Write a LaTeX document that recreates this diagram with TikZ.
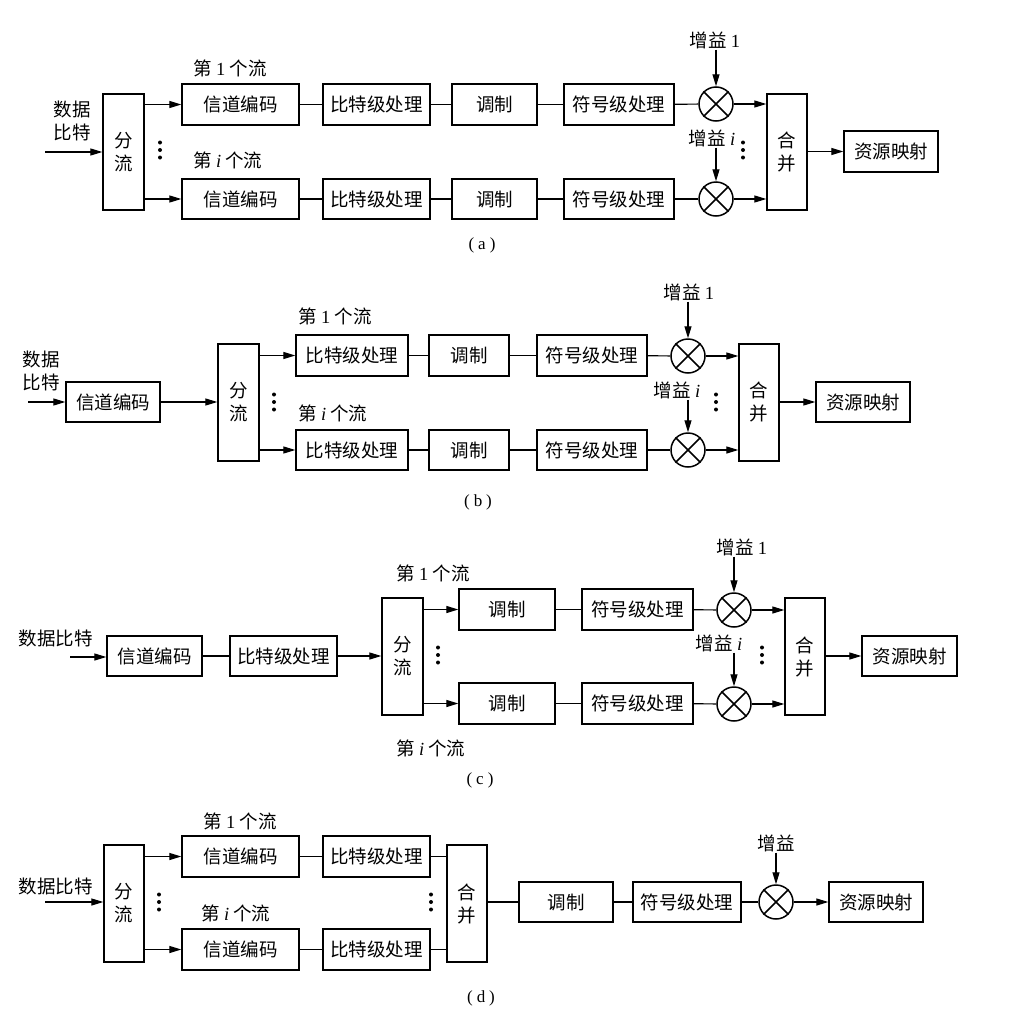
\documentclass[tikz,border=0pt]{standalone}
\usepackage{fontspec}
\setmainfont{Liberation Serif}
\newfontfamily\cjk{Noto Sans CJK SC}
\usetikzlibrary{arrows.meta,calc}
\newcommand\nm[1]{{\rmfamily #1}}
\newcommand\ital{{\rmfamily\itshape i}}
\newcommand\capt[1]{(\hspace{4pt}#1\hspace{4pt})}
\newcommand\vdts[2]{\fill (#1,#2-7.5) circle (2pt) (#1,#2) circle (2pt) (#1,#2+7.5) circle (2pt);}
\newcommand\xmark[1]{\draw[line width=1.5pt] (#1.north west) -- (#1.south east) (#1.north east) -- (#1.south west);}
% \bx{name}{x1}{y1}{x2}{y2}{text}
\newcommand\bx[6]{\node[blk, minimum width={(#4-#2)*1pt}, minimum height={(#5-#3)*1pt}] (#1) at ({(#2+#4)/2},{(#3+#5)/2}) {#6};}
\begin{document}
\begin{tikzpicture}[x=1pt,y=-1pt,
  every node/.style={font=\cjk\fontsize{18.5}{23}\selectfont},
  blk/.style={draw, line width=1.3pt, inner sep=0pt, align=center},
  lbl/.style={inner sep=1pt, align=center},
  captxt/.style={inner sep=0pt, font=\rmfamily\fontsize{17}{19}\selectfont},
  mult/.style={draw, circle, line width=1.5pt, minimum size=34pt, inner sep=0pt},
  conn/.style={line width=1.2pt},
  arr/.style={conn, -{Triangle[length=12pt,width=7pt]}},
]
\useasboundingbox[fill=white] (0,0) rectangle (1018,1020);

%% ---------------- (a) ----------------
\node[lbl] (a-in) at (72,121) {数据\\比特};
\coordinate (a-start) at (45,152);
\bx{a-split}{103}{94}{144}{210}{分\\流}
\bx{a-e1}{182}{84}{299}{125}{信道编码}
\bx{a-e2}{182}{179}{299}{219}{信道编码}
\bx{a-b1}{323}{84}{430}{125}{比特级处理}
\bx{a-b2}{323}{179}{430}{219}{比特级处理}
\bx{a-m1}{452}{84}{537}{125}{调制}
\bx{a-m2}{452}{179}{537}{219}{调制}
\bx{a-s1}{564}{84}{674}{125}{符号级处理}
\bx{a-s2}{564}{179}{674}{219}{符号级处理}
\node[mult] (a-x1) at (716,104) {};
\node[mult] (a-x2) at (716,199) {};
\xmark{a-x1}\xmark{a-x2}
\bx{a-comb}{767}{94}{807}{210}{合\\并}
\bx{a-res}{844}{131}{938}{172}{资源映射}
\node[lbl] (a-f1) at (230,68) {第 \nm{1} 个流};
\node[lbl] (a-fi) at (228,160) {第 \ital{} 个流};
\node[lbl] (a-g1) at (715,40) {增益 \nm{1}};
\node[lbl] (a-gi) at (712,138) {增益 \ital};
\node[captxt] (a-cap) at (482,245) {\capt{a}};
\draw[arr] (a-start) -- (a-start -| a-split.west);
\draw[arr] (a-e1.west -| a-split.east) -- (a-e1.west);
\draw[arr] (a-e2.west -| a-split.east) -- (a-e2.west);
\draw[conn] (a-e1) -- (a-b1); \draw[conn] (a-b1) -- (a-m1); \draw[conn] (a-m1) -- (a-s1); \draw[conn] (a-s1) -- (a-x1);
\draw[conn] (a-e2) -- (a-b2); \draw[conn] (a-b2) -- (a-m2); \draw[conn] (a-m2) -- (a-s2); \draw[conn] (a-s2) -- (a-x2);
\draw[arr] (a-x1) -- (a-x1 -| a-comb.west);
\draw[arr] (a-x2) -- (a-x2 -| a-comb.west);
\draw[arr] (a-g1.south -| a-x1) -- (a-x1);
\draw[arr] (a-gi.south -| a-x2) -- (a-x2);
\draw[arr] (a-res.west -| a-comb.east) -- (a-res.west);
\vdts{160}{150}
\vdts{743}{150}

%% ---------------- (b) ----------------
\node[lbl] (b-in) at (41,371) {数据\\比特};
\coordinate (b-start) at (28,402);
\bx{b-enc}{66}{382}{160}{422}{信道编码}
\bx{b-split}{218}{344}{259}{461}{分\\流}
\bx{b-b1}{296}{335}{408}{376}{比特级处理}
\bx{b-b2}{296}{430}{408}{470}{比特级处理}
\bx{b-m1}{429}{335}{509}{376}{调制}
\bx{b-m2}{429}{430}{509}{470}{调制}
\bx{b-s1}{537}{335}{647}{376}{符号级处理}
\bx{b-s2}{537}{430}{647}{470}{符号级处理}
\node[mult] (b-x1) at (688,356) {};
\node[mult] (b-x2) at (688,450) {};
\xmark{b-x1}\xmark{b-x2}
\bx{b-comb}{739}{344}{779}{461}{合\\并}
\bx{b-res}{816}{382}{910}{422}{资源映射}
\node[lbl] (b-f1) at (335,316) {第 \nm{1} 个流};
\node[lbl] (b-fi) at (333,413) {第 \ital{} 个流};
\node[lbl] (b-g1) at (689,292) {增益 \nm{1}};
\node[lbl] (b-gi) at (677,390) {增益 \ital};
\node[captxt] (b-cap) at (478,502) {\capt{b}};
\draw[arr] (b-start) -- (b-start -| b-enc.west);
\draw[arr] (b-enc) -- (b-enc -| b-split.west);
\draw[arr] (b-b1.west -| b-split.east) -- (b-b1.west);
\draw[arr] (b-b2.west -| b-split.east) -- (b-b2.west);
\draw[conn] (b-b1) -- (b-m1); \draw[conn] (b-m1) -- (b-s1); \draw[conn] (b-s1) -- (b-x1);
\draw[conn] (b-b2) -- (b-m2); \draw[conn] (b-m2) -- (b-s2); \draw[conn] (b-s2) -- (b-x2);
\draw[arr] (b-x1) -- (b-x1 -| b-comb.west);
\draw[arr] (b-x2) -- (b-x2 -| b-comb.west);
\draw[arr] (b-g1.south -| b-x1) -- (b-x1);
\draw[arr] (b-gi.south -| b-x2) -- (b-x2);
\draw[arr] (b-res.west -| b-comb.east) -- (b-res.west);
\vdts{274}{402}
\vdts{716}{402}

%% ---------------- (c) ----------------
\node[lbl] (c-in) at (56,638) {数据比特};
\coordinate (c-start) at (70,657);
\bx{c-enc}{107}{636}{202}{676}{信道编码}
\bx{c-bit}{230}{636}{337}{676}{比特级处理}
\bx{c-split}{382}{598}{423}{715}{分\\流}
\bx{c-m1}{459}{589}{555}{630}{调制}
\bx{c-m2}{459}{683}{555}{724}{调制}
\bx{c-s1}{582}{589}{693}{630}{符号级处理}
\bx{c-s2}{582}{683}{693}{724}{符号级处理}
\node[mult] (c-x1) at (734,610) {};
\node[mult] (c-x2) at (734,704) {};
\xmark{c-x1}\xmark{c-x2}
\bx{c-comb}{785}{598}{825}{715}{合\\并}
\bx{c-res}{862}{636}{957}{676}{资源映射}
\node[lbl] (c-f1) at (433,573) {第 \nm{1} 个流};
\node[lbl] (c-fi) at (431,748) {第 \ital{} 个流};
\node[lbl] (c-g1) at (742,547) {增益 \nm{1}};
\node[lbl] (c-gi) at (719,643) {增益 \ital};
\node[captxt] (c-cap) at (480,780) {\capt{c}};
\draw[arr] (c-start) -- (c-start -| c-enc.west);
\draw[conn] (c-enc) -- (c-bit);
\draw[arr] (c-bit) -- (c-bit -| c-split.west);
\draw[arr] (c-m1.west -| c-split.east) -- (c-m1.west);
\draw[arr] (c-m2.west -| c-split.east) -- (c-m2.west);
\draw[conn] (c-m1) -- (c-s1); \draw[conn] (c-s1) -- (c-x1);
\draw[conn] (c-m2) -- (c-s2); \draw[conn] (c-s2) -- (c-x2);
\draw[arr] (c-x1) -- (c-x1 -| c-comb.west);
\draw[arr] (c-x2) -- (c-x2 -| c-comb.west);
\draw[arr] (c-g1.south -| c-x1) -- (c-x1);
\draw[arr] (c-gi.south -| c-x2) -- (c-x2);
\draw[arr] (c-res.west -| c-comb.east) -- (c-res.west);
\vdts{438}{655}
\vdts{762}{655}

%% ---------------- (d) ----------------
\node[lbl] (d-in) at (56,886) {数据比特};
\coordinate (d-start) at (45,902);
\bx{d-split}{104}{845}{144}{962}{分\\流}
\bx{d-e1}{182}{836}{299}{877}{信道编码}
\bx{d-e2}{182}{929}{299}{970}{信道编码}
\bx{d-b1}{323}{836}{430}{877}{比特级处理}
\bx{d-b2}{323}{929}{430}{970}{比特级处理}
\bx{d-comb}{447}{845}{487}{962}{合\\并}
\bx{d-mod}{519}{882}{613}{922}{调制}
\bx{d-sym}{633}{882}{741}{922}{符号级处理}
\node[mult] (d-x) at (776,902) {};
\xmark{d-x}
\bx{d-res}{829}{882}{923}{922}{资源映射}
\node[lbl] (d-f1) at (240,821) {第 \nm{1} 个流};
\node[lbl] (d-fi) at (236,913) {第 \ital{} 个流};
\node[lbl] (d-g) at (776,843) {增益};
\node[captxt] (d-cap) at (481,998) {\capt{d}};
\draw[arr] (d-start) -- (d-start -| d-split.west);
\draw[arr] (d-e1.west -| d-split.east) -- (d-e1.west);
\draw[arr] (d-e2.west -| d-split.east) -- (d-e2.west);
\draw[conn] (d-e1) -- (d-b1); \draw[conn] (d-b1) -- (d-b1 -| d-comb.west);
\draw[conn] (d-e2) -- (d-b2); \draw[conn] (d-b2) -- (d-b2 -| d-comb.west);
\draw[conn] (d-mod.west -| d-comb.east) -- (d-mod.west);
\draw[conn] (d-mod) -- (d-sym); \draw[conn] (d-sym) -- (d-x);
\draw[arr] (d-g.south -| d-x) -- (d-x);
\draw[arr] (d-x) -- (d-res);
\vdts{159}{902}
\vdts{431}{902}
\end{tikzpicture}
\end{document}
